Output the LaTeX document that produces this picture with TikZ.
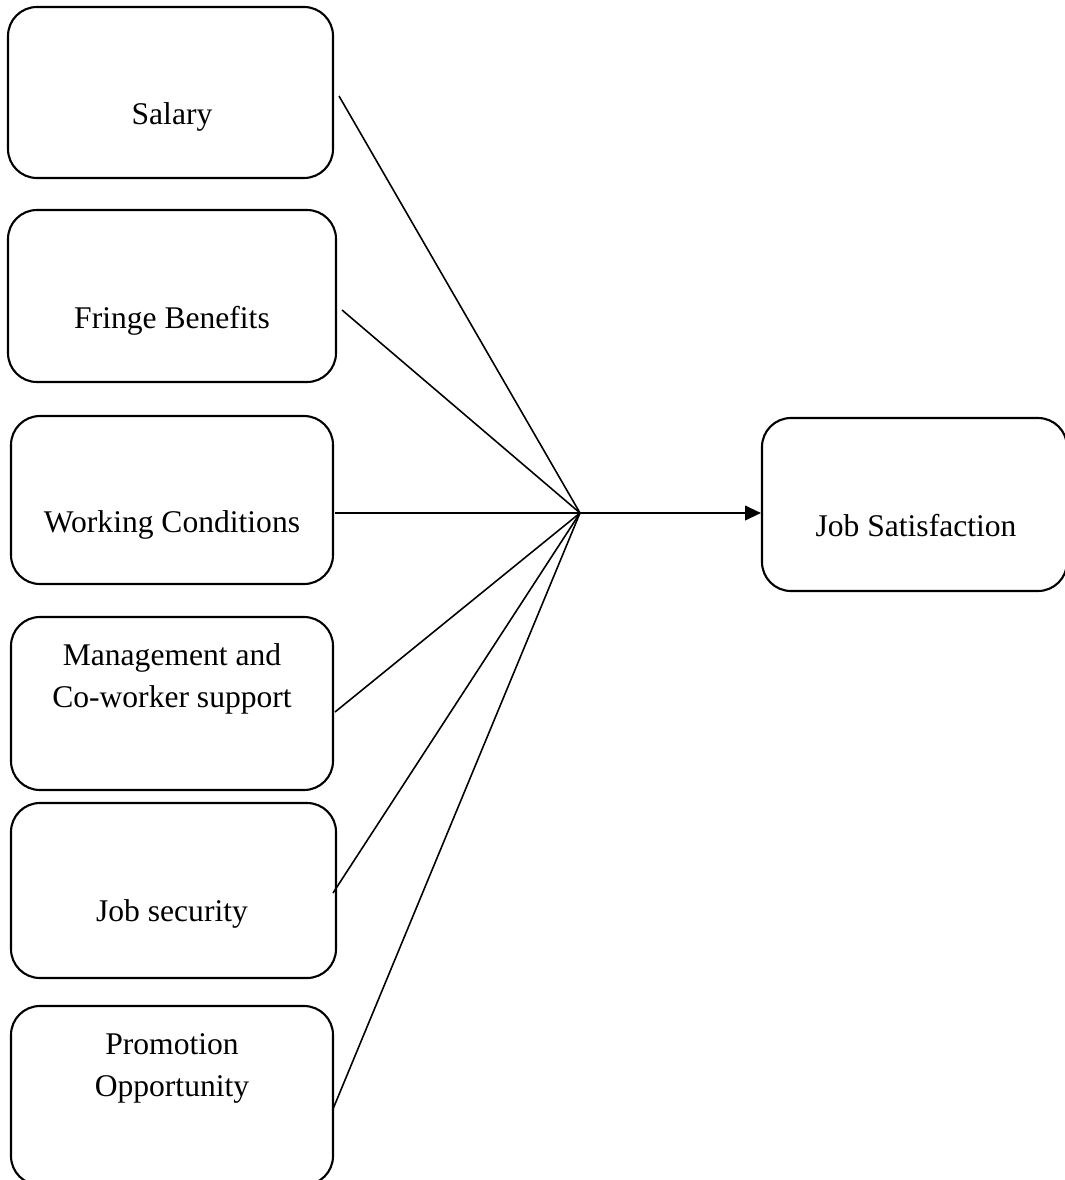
\documentclass[tikz,border=0pt]{standalone}
\usepackage{fontspec}
\setmainfont{Liberation Serif}
\usetikzlibrary{arrows.meta,calc}
\newcommand\pxu{0.38pt}
\begin{document}
\begin{tikzpicture}[x=0.38pt,y=-0.38pt,
  boxnode/.style={draw,line width=0.8pt,rounded corners=11pt,inner sep=0pt},
  lbl/.style={font=\fontsize{12}{16}\selectfont,align=center,inner sep=0pt},
  link/.style={line width=0.6pt},
  arr/.style={line width=0.8pt,-{Triangle[length=6pt,width=5.5pt]}}]
\useasboundingbox (0,0) rectangle (1065,1180);
% boxes
\node[boxnode,minimum width=325*\pxu,minimum height=171*\pxu] (b1) at (170.5,92.5) {};
\node[boxnode,minimum width=328*\pxu,minimum height=172*\pxu] (b2) at (172,296) {};
\node[boxnode,minimum width=322*\pxu,minimum height=168*\pxu] (b3) at (172,500) {};
\node[boxnode,minimum width=322*\pxu,minimum height=173*\pxu] (b4) at (172,703.5) {};
\node[boxnode,minimum width=325*\pxu,minimum height=175*\pxu] (b5) at (173.5,890.5) {};
\node[boxnode,minimum width=322*\pxu,minimum height=179*\pxu] (b6) at (172,1095.5) {};
\node[boxnode,minimum width=305*\pxu,minimum height=173*\pxu] (js) at (914.5,504.5) {};
% labels
\node[lbl] (t1) at (172,117) {Salary};
\node[lbl] (t2) at (172,321) {Fringe Benefits};
\node[lbl] (t3) at (172,525) {Working Conditions};
\node[lbl] (t4) at (172,679) {Management and\\Co-worker support};
\node[lbl] (t5) at (172,914) {Job security};
\node[lbl] (t6) at (172,1068) {Promotion\\Opportunity};
\node[lbl] (tj) at (916,526) {Job Satisfaction};
% connector points
\coordinate (s1) at (339,96);
\coordinate (s2) at (342,310);
\coordinate (s3) at (335,513);
\coordinate (s4) at (335,712);
\coordinate (s5) at (333,893);
\coordinate (s6) at (333,1109);
\coordinate (c) at (580,513);
\coordinate (e) at (js.west |- c);
\draw[link] (s1) -- (c);
\draw[link] (s2) -- (c);
\draw[link] (s3) -- (c);
\draw[link] (s4) -- (c);
\draw[link] (s5) -- (c);
\draw[link] (s6) -- (c);
\draw[arr] (c) -- (e);
\end{tikzpicture}
\end{document}
